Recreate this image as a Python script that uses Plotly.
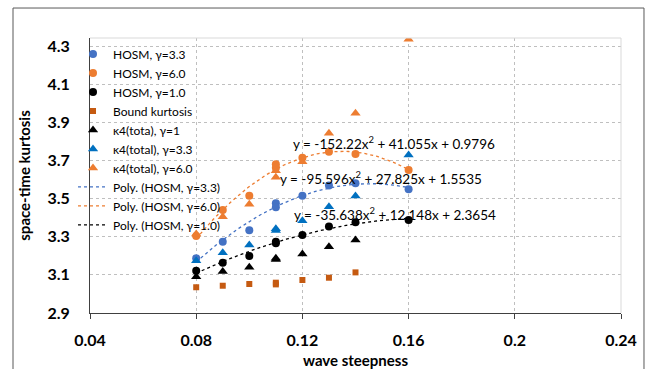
import numpy as np
import plotly.graph_objects as go

# ---- data ----
x_hosm = [0.08, 0.09, 0.10, 0.11, 0.11, 0.12, 0.13, 0.14, 0.16]
hosm_33 = [3.187, 3.274, 3.334, 3.475, 3.454, 3.515, 3.568, 3.580, 3.549]
hosm_60 = [3.304, 3.440, 3.515, 3.680, 3.662, 3.714, 3.746, 3.734, 3.650]
hosm_10 = [3.122, 3.164, 3.199, 3.274, 3.266, 3.309, 3.353, 3.376, 3.388]

x_bound = [0.08, 0.09, 0.10, 0.11, 0.11, 0.12, 0.13, 0.14]
bound_k = [3.035, 3.043, 3.052, 3.059, 3.050, 3.073, 3.085, 3.113]

x_k4_10 = [0.08, 0.09, 0.10, 0.11, 0.11, 0.12, 0.13, 0.14]
k4_10 = [3.090, 3.117, 3.140, 3.187, 3.180, 3.209, 3.248, 3.283]

x_k4 = [0.08, 0.09, 0.10, 0.11, 0.11, 0.12, 0.13, 0.14, 0.16]
k4_33 = [3.174, 3.216, 3.257, 3.342, 3.332, 3.384, 3.457, 3.514, 3.728]
k4_60 = [3.314, 3.405, 3.470, 3.646, 3.612, 3.693, 3.842, 3.947, 4.335]

# trendline coefficients as displayed (a, b, c for a*x^2 + b*x + c)
poly_33 = [-95.596, 27.825, 1.5535]
poly_60 = [-152.22, 41.055, 0.9796]
poly_10 = [-35.638, 12.148, 2.3654]

x_ticks = [0.04, 0.08, 0.12, 0.16, 0.2, 0.24]
y_ticks = [2.9, 3.1, 3.3, 3.5, 3.7, 3.9, 4.1, 4.3]

BLUE = "#4472C4"
ORANGE = "#ED7D31"
BLACK = "#000000"
BROWN = "#C55A11"
TBLUE = "#0070C0"

FONT = "Lato"

fig = go.Figure()

xt = np.linspace(min(x_hosm), max(x_hosm), 100)
for name, coef, col, rank in [
    ("Poly. (HOSM, γ=3.3)", poly_33, BLUE, 8),
    ("Poly. (HOSM, γ=6.0)", poly_60, ORANGE, 9),
    ("Poly. (HOSM, γ=1.0)", poly_10, BLACK, 10),
]:
    fig.add_trace(go.Scatter(x=xt, y=np.polyval(coef, xt), mode="lines", name=name,
                             line=dict(color=col, width=1.3, dash="dot"),
                             legendrank=rank, hoverinfo="skip"))

series = [
    ("HOSM, γ=3.3", x_hosm, hosm_33, "circle", BLUE, 8, 1),
    ("HOSM, γ=6.0", x_hosm, hosm_60, "circle", ORANGE, 8, 2),
    ("HOSM, γ=1.0", x_hosm, hosm_10, "circle", BLACK, 8, 3),
    ("Bound kurtosis", x_bound, bound_k, "square", BROWN, 6, 4),
    ("κ4(tota), γ=1", x_k4_10, k4_10, "triangle-up", BLACK, 9, 5),
    ("κ4(total), γ=3.3", x_k4, k4_33, "triangle-up", TBLUE, 9, 6),
    ("κ4(total), γ=6.0", x_k4, k4_60, "triangle-up", ORANGE, 9, 7),
]
for name, xs, ys, sym, col, sz, rank in series:
    fig.add_trace(go.Scatter(x=xs, y=ys, mode="markers", name=name,
                             marker=dict(symbol=sym, color=col, size=sz, line=dict(width=0)),
                             legendrank=rank))

def eq_text(c):
    return f"y = {c[0]}x<sup>2</sup> + {c[1]}x + {c[2]}"

annots = [
    (poly_60, 0.1157, 3.791),
    (poly_33, 0.1108, 3.608),
    (poly_10, 0.1160, 3.419),
]
for coef, ax_, ay_ in annots:
    fig.add_annotation(x=ax_, y=ay_, xref="x", yref="y", text=eq_text(coef),
                       showarrow=False, xanchor="left", yanchor="middle",
                       font=dict(family=FONT, size=13.5, color="#000000"))

fig.update_layout(
    width=645, height=369,
    margin=dict(l=90, r=24, t=38, b=56, autoexpand=False),
    paper_bgcolor="white", plot_bgcolor="white",
    font=dict(family=FONT, color="#000000"),
    hovermode=False,
    showlegend=True,
    legend=dict(x=-0.032, y=0.995, xanchor="left", yanchor="top",
                bgcolor="rgba(0,0,0,0)", borderwidth=0,
                font=dict(family=FONT, size=12, color="#000000"),
                itemwidth=30, tracegroupgap=0),
    xaxis=dict(range=[0.04, 0.24], tickvals=x_ticks, ticktext=[str(v) for v in x_ticks],
               automargin=False,
               showgrid=True, gridcolor="#BFBFBF", griddash="dot", gridwidth=1,
               showline=True, linecolor="#404040", linewidth=1,
               ticks="outside", ticklen=5, tickcolor="#404040",
               tickfont=dict(family=FONT, size=16, color="#000000", weight="bold"),
               ticklabelstandoff=8, zeroline=False,
               title=dict(text="<b>wave steepness</b>", standoff=8,
                          font=dict(family=FONT, size=15, color="#000000"))),
    yaxis=dict(range=[2.9, 4.342], tickvals=y_ticks, ticktext=[f"{v:.1f}" for v in y_ticks],
               automargin=False,
               showgrid=True, gridcolor="#BFBFBF", griddash="dot", gridwidth=1,
               showline=True, linecolor="#404040", linewidth=1,
               ticks="", tickfont=dict(family=FONT, size=16, color="#000000", weight="bold"),
               ticklabelstandoff=16, zeroline=False,
               title=dict(text="<b>space-time kurtosis</b>", standoff=13,
                          font=dict(family=FONT, size=15, color="#000000"))),
)

# plot-area border (top, right) and outer chart border
fig.add_shape(type="line", xref="paper", yref="paper", x0=0, x1=1, y0=1, y1=1,
              line=dict(color="#D9D9D9", width=1))
fig.add_shape(type="line", xref="paper", yref="paper", x0=1, x1=1, y0=0, y1=1,
              line=dict(color="#D9D9D9", width=1))
fig.add_shape(type="rect", xref="paper", yref="paper", x0=-0.145, x1=1.0433,
              y0=-0.25, y1=1.109, line=dict(color="#595959", width=1), layer="below")

fig.write_html("out.html")
